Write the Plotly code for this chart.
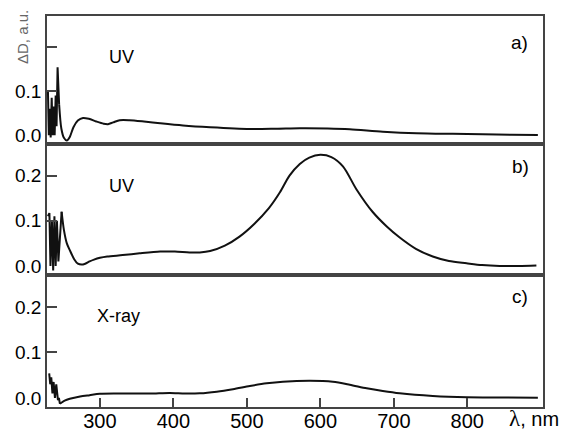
import plotly.graph_objects as go

# ---- data (wavelength in nm, ΔD in a.u.) ----
wl_a = [229.3, 230.5, 231.8, 233.0, 234.4, 235.7, 237.1, 238.4, 239.8, 241.0, 242.4, 244.5,
        247.5, 251, 255, 259, 264, 270, 277, 285, 295, 305, 311, 318, 327, 340, 360, 382,
        413, 450, 504, 540, 572, 610, 640, 685, 731, 780, 821, 860, 896]
d_a = [0.098, 0.0, 0.06, -0.005, 0.085, 0.0, 0.065, 0.0, 0.09, 0.02, 0.154, 0.07,
       0.015, -0.006, -0.012, -0.004, 0.018, 0.033, 0.039, 0.037, 0.031, 0.026, 0.025, 0.029,
       0.034, 0.034, 0.031, 0.027, 0.022, 0.018, 0.014, 0.0145, 0.0155, 0.015, 0.0133, 0.008,
       0.0045, 0.003, 0.002, 0.001, 0.0005]

wl_b = [229.3, 231.3, 232.7, 234.7, 236.4, 238.1, 239.8, 241.5, 243.5, 247.9, 251, 255, 259,
        265, 270, 275, 280, 286, 292, 300, 310, 331, 354, 382, 402, 422, 436, 450, 470, 490,
        510, 530, 545, 558, 572, 585, 600, 615, 631, 649, 671, 690, 708, 730, 753, 775, 799,
        820, 844, 870, 894]
d_b = [0.11, 0.117, 0.0, 0.10, -0.01, 0.11, 0.0, 0.10, 0.01, 0.12, 0.08, 0.05, 0.035,
       0.015, 0.005, 0.003, 0.005, 0.01, 0.014, 0.018, 0.021, 0.024, 0.028, 0.032, 0.032,
       0.030, 0.030, 0.033, 0.045, 0.065, 0.093, 0.128, 0.163, 0.200, 0.226, 0.240, 0.246,
       0.241, 0.220, 0.170, 0.120, 0.088, 0.063, 0.038, 0.021, 0.011, 0.006, 0.002, 0.0,
       0.0, 0.001]

wl_c = [231.0, 232.4, 233.8, 235.4, 237.0, 238.8, 240.6, 242.9, 244.2, 245.6, 248, 252, 259,
        273, 286, 300, 327, 368, 395, 416, 436, 459, 481, 504, 527, 549, 586, 617, 640, 663,
        685, 708, 753, 799, 844, 896]
d_c = [0.054, 0.03, 0.045, 0.01, 0.035, 0.0, 0.03, -0.005, 0.0, -0.013, -0.01, -0.006,
       -0.002, 0.003, 0.006, 0.009, 0.0095, 0.0095, 0.011, 0.0095, 0.010, 0.0136, 0.019,
       0.026, 0.032, 0.0356, 0.0378, 0.0356, 0.029, 0.021, 0.015, 0.010, 0.0042, 0.0013,
       0.0008, 0.0005]

# index where the noisy (sharp) start of each spectrum ends
noise_end = [11, 9, 9]

x_ticks = [300, 400, 500, 600, 700, 800]
y_ticks = [0.0, 0.1, 0.2]
panel_letters = ["a)", "b)", "c)"]
panel_sources = ["UV", "UV", "X-ray"]

# ---- figure ----
W, H = 561, 432
ML, MR, MT, MB = 47, 18, 16, 25
PW, PH = W - ML - MR, H - MT - MB

def px(x):
    return (x - ML) / PW

def py(y):
    return (H - MB - y) / PH

dom = [[py(144), 1.0], [py(275), py(144)], [0.0, py(275)]]
xr = [228, 903]
yr = [-0.02, 0.27]
axis_col = "#444444"

fig = go.Figure()
for i, (wl, d) in enumerate([(wl_a, d_a), (wl_b, d_b), (wl_c, d_c)]):
    sfx = "" if i == 0 else str(i + 1)
    k = noise_end[i]
    fig.add_trace(go.Scatter(x=wl[:k + 1], y=d[:k + 1], mode="lines",
                             xaxis="x" + sfx, yaxis="y" + sfx,
                             line=dict(color="#111111", width=2), showlegend=False,
                             hoverinfo="skip"))
    fig.add_trace(go.Scatter(x=wl[k:], y=d[k:], mode="lines",
                             xaxis="x" + sfx, yaxis="y" + sfx,
                             line=dict(color="#111111", width=2, shape="spline",
                                       smoothing=0.8),
                             showlegend=False, hoverinfo="skip"))

layout = dict(width=W, height=H, margin=dict(l=ML, r=MR, t=MT, b=MB, autoexpand=False),
              paper_bgcolor="white", plot_bgcolor="white", hovermode=False,
              font=dict(family="Liberation Sans, Arial, sans-serif", color="black"))

for i in range(3):
    sfx = "" if i == 0 else str(i + 1)
    bottom = i == 2
    layout["xaxis" + sfx] = dict(
        domain=[0, 1], range=xr, anchor="y" + sfx, showgrid=False, zeroline=False,
        showline=True, linecolor=axis_col, linewidth=1.7, mirror=True, automargin=False,
        tickvals=x_ticks if bottom else [], ticks="inside" if bottom else "",
        ticklen=9, tickwidth=1.5, tickcolor=axis_col, ticklabelstandoff=-5,
        showticklabels=bottom, tickfont=dict(size=20))
    yt = y_ticks if i != 0 else y_ticks[:2]
    layout["yaxis" + sfx] = dict(
        domain=dom[i], range=yr, anchor="x" + sfx, showgrid=False, zeroline=False,
        showline=True, linecolor=axis_col, linewidth=1.7, mirror=True, automargin=False,
        tickvals=yt, ticktext=["%.1f" % v for v in yt], ticks="",
        tickfont=dict(size=19),
        minor=dict(tickvals=[0.1, 0.2], ticks="inside", ticklen=10, tickwidth=1.5,
                   tickcolor=axis_col, showgrid=False))

ann = []
letter_pos = [(519, 43), (520, 166), (520, 296)]
src_pos = [(121, 57), (121, 186), (118, 316)]
for i in range(3):
    ann.append(dict(text=panel_letters[i], x=px(letter_pos[i][0]), y=py(letter_pos[i][1]),
                    xref="paper", yref="paper", showarrow=False, xanchor="center",
                    yanchor="middle", font=dict(size=19)))
    ann.append(dict(text=panel_sources[i], x=px(src_pos[i][0]), y=py(src_pos[i][1]),
                    xref="paper", yref="paper", showarrow=False, xanchor="center",
                    yanchor="middle", font=dict(size=18)))
ann.append(dict(text="ΔD, a.u.", x=px(22), y=py(37), xref="paper", yref="paper",
                showarrow=False, textangle=-90, xanchor="center", yanchor="middle",
                font=dict(size=15, color="#666666")))
ann.append(dict(text="<span style='font-family:Liberation Serif;font-size:23px'>λ</span>, nm",
                x=px(561), y=py(418), xref="paper", yref="paper", showarrow=False,
                xanchor="right", yanchor="middle", font=dict(size=20)))
layout["annotations"] = ann

fig.update_layout(**layout)
fig.write_html("out.html", config={"displayModeBar": False},
               post_script="document.body.style.margin='0px';document.body.style.overflow='hidden';")
